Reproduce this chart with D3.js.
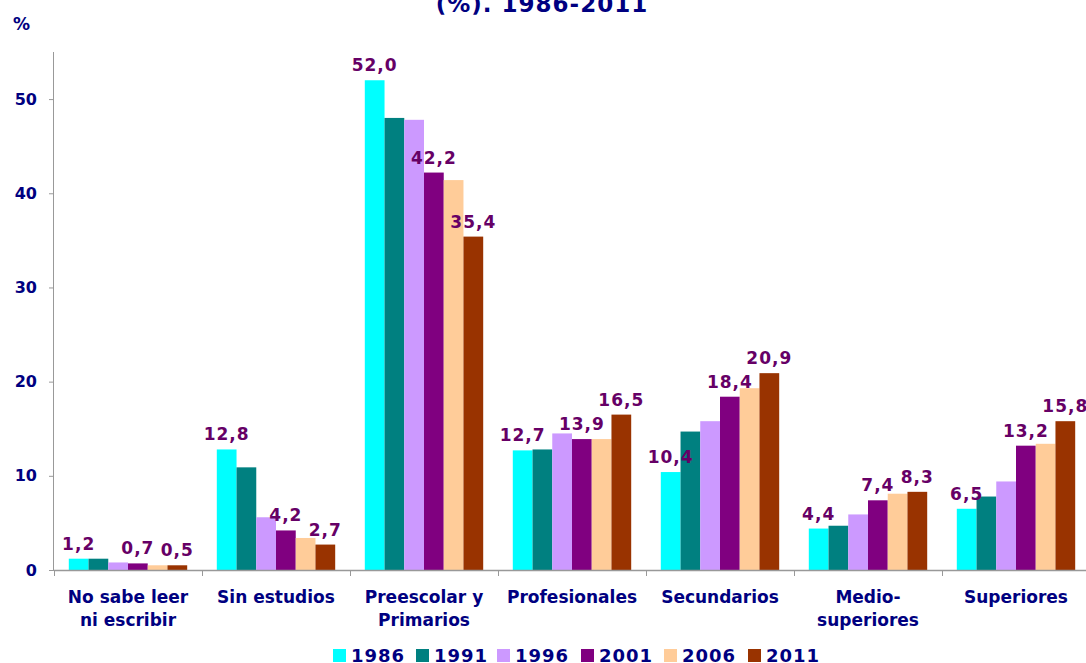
<!DOCTYPE html>
<html>
<head>
<meta charset="utf-8">
<script src="https://cdn.jsdelivr.net/npm/d3@7"></script>
<style>
  html, body { margin: 0; padding: 0; background: #fff; }
  svg { display: block; }
  text { font-family: "DejaVu Sans", Verdana, sans-serif; font-weight: bold; }
</style>
</head>
<body>
<script>
// ---- data ----
const categories = ["No sabe leer\nni escribir", "Sin estudios", "Preescolar y\nPrimarios",
  "Profesionales", "Secundarios", "Medio-\nsuperiores", "Superiores"];
const years = ["1986", "1991", "1996", "2001", "2006", "2011"];
const values1986 = [1.2, 12.8, 52.0, 12.7, 10.4, 4.4, 6.5];
const values1991 = [1.2, 10.9, 48.0, 12.8, 14.7, 4.7, 7.8];
const values1996 = [0.8, 5.6, 47.8, 14.5, 15.8, 5.9, 9.4];
const values2001 = [0.7, 4.2, 42.2, 13.9, 18.4, 7.4, 13.2];
const values2006 = [0.5, 3.4, 41.4, 13.9, 19.3, 8.1, 13.4];
const values2011 = [0.5, 2.7, 35.4, 16.5, 20.9, 8.3, 15.8];
const labeledYears = ["1986", "2001", "2011"];
const yTicks = [0, 10, 20, 30, 40, 50];
const colors = ["#00ffff", "#008080", "#cc99ff", "#800080", "#ffcc99", "#993300"];
const titleText = "(%). 1986-2011";
const yUnit = "%";

const seriesValues = [values1986, values1991, values1996, values2001, values2006, values2011];

// ---- layout ----
const W = 1086, H = 663;
const x0 = 54, x1 = 1090, yBase = 570, yTop = 52;
const navy = "#000080", labelColor = "#660066", axisColor = "#999999";

const svg = d3.select("body").append("svg").attr("width", W).attr("height", H);

const x = d3.scaleBand().domain(d3.range(categories.length)).range([x0, x1])
  .paddingInner(0.2).paddingOuter(0.1);
const xs = d3.scaleBand().domain(years).range([0, x.bandwidth()]);
const y = d3.scaleLinear().domain([0, 55]).range([yBase, yTop]);

// title (second line visible)
svg.append("text").attr("x", 542).attr("y", 12).attr("text-anchor", "middle")
  .attr("fill", navy).style("font-size", "23px").style("letter-spacing", "1px").text(titleText);
svg.append("text").attr("x", 13).attr("y", 30).attr("fill", navy)
  .style("font-size", "17px").text(yUnit);

// bars
const barLayer = svg.append("g");
const labelLayer = svg.append("g");
categories.forEach((c, ci) => {
  years.forEach((yr, si) => {
    const v = seriesValues[si][ci];
    const bx = x(ci) + xs(yr);
    barLayer.append("rect").attr("x", bx).attr("width", xs.bandwidth())
      .attr("y", y(v)).attr("height", y(0) - y(v)).attr("fill", colors[si]);
    if (labeledYears.includes(yr)) {
      labelLayer.append("text").attr("x", bx + xs.bandwidth() / 2).attr("y", y(v) - 9)
        .attr("text-anchor", "middle").attr("fill", labelColor)
        .style("font-size", "17px").style("letter-spacing", "1px")
        .text(d3.format(".1f")(v).replace(".", ","));
    }
  });
});

// y axis
const yAxis = d3.axisLeft(y).tickValues(yTicks).tickSize(5).tickFormat(d3.format("d"));
const ya = svg.append("g").attr("transform", `translate(${x0},0)`).call(yAxis);
ya.select(".domain").attr("stroke", axisColor).attr("d", `M-0.5,${yTop}V${yBase}`);
ya.selectAll(".tick line").attr("stroke", axisColor);
ya.selectAll(".tick text").attr("fill", navy).style("font-size", "16px")
  .style("font-family", "DejaVu Sans").style("font-weight", "bold").attr("x", -17);

// x axis line and category dividers
svg.append("line").attr("x1", x0).attr("x2", W).attr("y1", yBase + 0.5).attr("y2", yBase + 0.5)
  .attr("stroke", axisColor).attr("stroke-width", 1.5);
const step = x.step();
d3.range(categories.length + 1).forEach(i => {
  const xx = Math.round(x0 + i * step) + 0.5;
  svg.append("line").attr("x1", xx).attr("x2", xx).attr("y1", yBase).attr("y2", yBase + 6)
    .attr("stroke", axisColor);
});

// category labels
categories.forEach((c, i) => {
  const t = svg.append("text").attr("text-anchor", "middle").attr("fill", navy)
    .style("font-size", "17px");
  c.split("\n").forEach((line, li) => {
    t.append("tspan").attr("x", x(i) + x.bandwidth() / 2).attr("y", 603 + li * 23).text(line);
  });
});

// legend
const legendX = [333, 416, 497, 581, 664, 748];
years.forEach((yr, i) => {
  svg.append("rect").attr("x", legendX[i]).attr("y", 649).attr("width", 13).attr("height", 13)
    .attr("fill", colors[i]);
  svg.append("text").attr("x", legendX[i] + 18).attr("y", 662).attr("fill", navy)
    .style("font-size", "18px").style("letter-spacing", "1px").text(yr);
});
</script>
</body>
</html>
